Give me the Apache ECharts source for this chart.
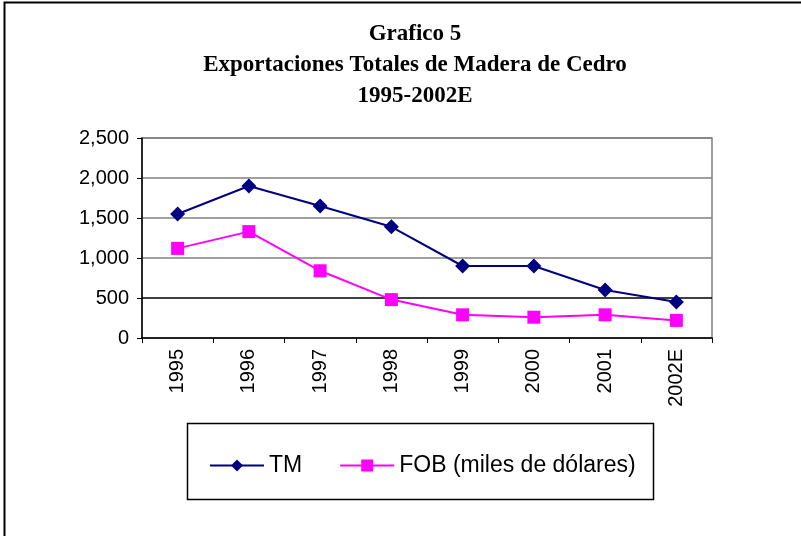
<!DOCTYPE html>
<html>
<head>
<meta charset="utf-8">
<script src="https://cdn.jsdelivr.net/npm/echarts@6/dist/echarts.min.js"></script>
<style>
  html, body { margin: 0; padding: 0; background: #fff; }
  #chart { width: 801px; height: 536px; }
</style>
</head>
<body>
<div id="chart"></div>
<script>
// datos
var years = ['1995', '1996', '1997', '1998', '1999', '2000', '2001', '2002E'];
var tm = [1550, 1900, 1650, 1390, 900, 900, 600, 450];
var fob = [1120, 1330, 840, 480, 290, 260, 290, 220];
var titleLines = ['Grafico 5', 'Exportaciones Totales de Madera de Cedro', '1995-2002E'];

var myChart = echarts.init(document.getElementById('chart'));

var option = {
    backgroundColor: '#fff',
    animation: false,
    title: {
        text: titleLines.join('\n'),
        left: 410,
        textAlign: 'center',
        top: 14,
        textStyle: {
            fontFamily: 'Liberation Serif',
            fontWeight: 'bold',
            fontSize: 23,
            lineHeight: 31,
            color: '#000'
        }
    },
    graphic: [
        {
            // marco exterior
            type: 'rect',
            shape: { x: 4.5, y: 2.5, width: 900, height: 700 },
            style: { fill: 'none', stroke: '#000', lineWidth: 2 },
            silent: true
        },
        {
            // caja de la leyenda
            type: 'rect',
            shape: { x: 187.5, y: 423.5, width: 466, height: 76 },
            style: { fill: 'none', stroke: '#000', lineWidth: 1.5 },
            silent: true
        }
    ],
    legend: {
        left: 204,
        top: 449,
        itemGap: 37,
        itemWidth: 54,
        itemHeight: 15,
        textStyle: {
            fontFamily: 'Liberation Sans',
            fontSize: 23,
            color: '#000'
        },
        data: ['TM', 'FOB (miles de dólares)']
    },
    grid: {
        left: 142,
        right: 89,
        top: 138,
        bottom: 198,
        show: true,
        borderColor: '#808080',
        borderWidth: 1.5
    },
    xAxis: {
        type: 'category',
        data: years,
        boundaryGap: true,
        axisLine: { lineStyle: { color: '#000', width: 1.5 } },
        axisTick: { show: true, length: 5, lineStyle: { color: '#000' } },
        axisLabel: {
            rotate: 90,
            margin: 11,
            fontFamily: 'Liberation Sans',
            fontSize: 20,
            color: '#000'
        }
    },
    yAxis: {
        type: 'value',
        min: 0,
        max: 2500,
        interval: 500,
        axisLine: { show: true, lineStyle: { color: '#000', width: 1.5 } },
        axisTick: { show: true, length: 5, lineStyle: { color: '#000' } },
        axisLabel: {
            margin: 13,
            fontFamily: 'Liberation Sans',
            fontSize: 20,
            color: '#000',
            formatter: function (v) { return v.toLocaleString('en-US'); }
        },
        splitLine: {
            show: true,
            lineStyle: {
                color: ['#808080', '#000000', '#808080', '#808080', '#808080', '#808080'],
                width: 1.5
            }
        }
    },
    series: [
        {
            name: 'TM',
            type: 'line',
            data: tm,
            symbol: 'diamond',
            symbolSize: 15,
            lineStyle: { color: '#000080', width: 2 },
            itemStyle: { color: '#000080' }
        },
        {
            name: 'FOB (miles de dólares)',
            type: 'line',
            data: fob,
            symbol: 'rect',
            symbolSize: 13,
            lineStyle: { color: '#FF00FF', width: 2 },
            itemStyle: { color: '#FF00FF' }
        }
    ]
};

myChart.setOption(option);
</script>
</body>
</html>
